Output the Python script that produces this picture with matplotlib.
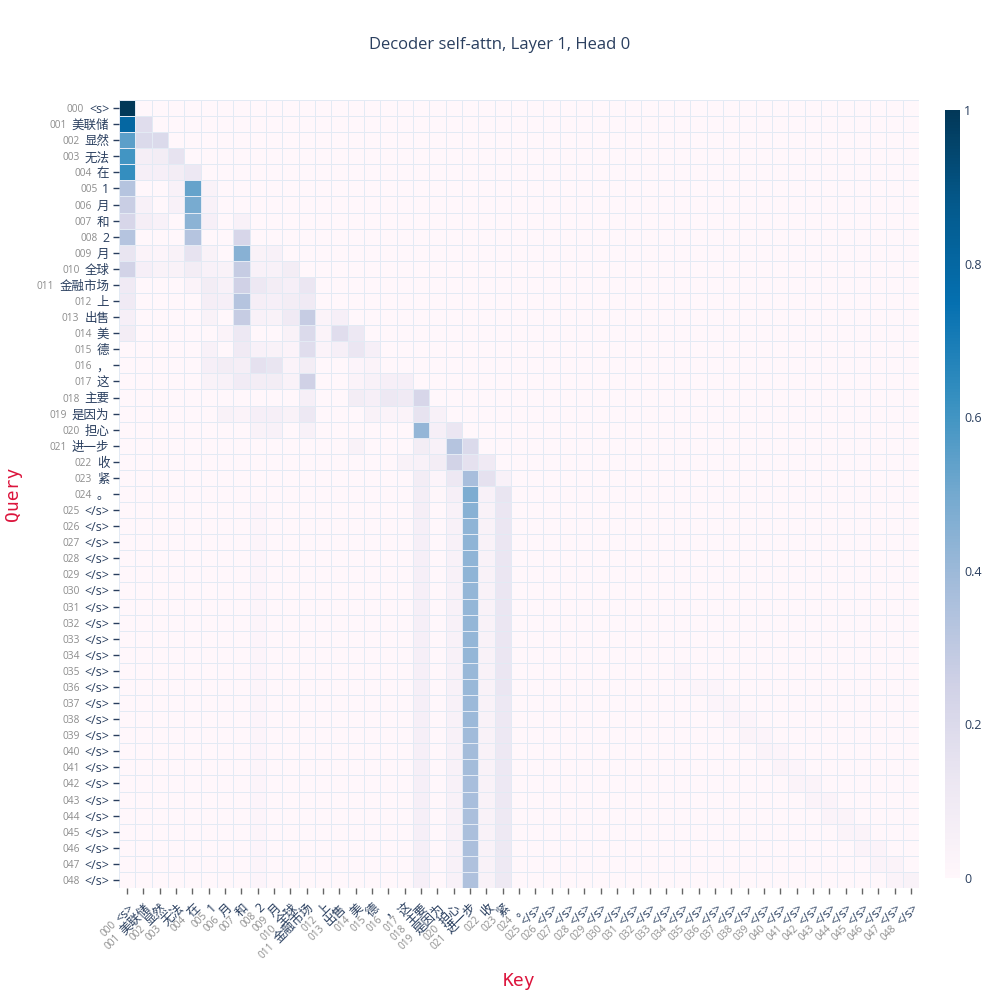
import numpy as np
import matplotlib
matplotlib.use("Agg")
import matplotlib.pyplot as plt
from matplotlib.font_manager import FontProperties

# tokens (same for query and key)
tokens = ["<s>", "美联储", "显然", "无法", "在", "1", "月", "和", "2", "月",
          "全球", "金融市场", "上", "出售", "美", "德", "，", "这", "主要", "是因为",
          "担心", "进一步", "收", "紧", "。"] + ["</s>"] * 24

# attention weights, row = query, {key col: weight}
attn_rows = [
    {0: 1.0},
    {0: 0.80, 1: 0.18},
    {0: 0.55, 1: 0.20, 2: 0.20},
    {0: 0.60, 1: 0.07, 2: 0.08, 3: 0.15},
    {0: 0.63, 1: 0.06, 2: 0.06, 3: 0.08, 4: 0.12},
    {0: 0.33, 3: 0.05, 4: 0.53, 5: 0.04},
    {0: 0.27, 1: 0.05, 3: 0.05, 4: 0.49, 5: 0.05},
    {0: 0.22, 1: 0.07, 2: 0.05, 4: 0.44, 5: 0.06, 7: 0.05},
    {0: 0.33, 4: 0.33, 7: 0.22},
    {0: 0.14, 1: 0.03, 2: 0.02, 3: 0.04, 4: 0.15, 5: 0.04, 7: 0.45, 8: 0.04, 9: 0.05},
    {0: 0.24, 1: 0.06, 2: 0.04, 3: 0.04, 4: 0.08, 5: 0.05, 6: 0.04, 7: 0.28, 8: 0.05, 9: 0.05, 10: 0.08},
    {0: 0.10, 4: 0.03, 5: 0.08, 6: 0.05, 7: 0.25, 8: 0.12, 9: 0.08, 10: 0.06, 11: 0.13},
    {0: 0.10, 5: 0.07, 6: 0.06, 7: 0.33, 8: 0.07, 9: 0.06, 10: 0.08, 11: 0.10},
    {0: 0.06, 5: 0.04, 7: 0.28, 8: 0.05, 9: 0.04, 10: 0.10, 11: 0.28, 12: 0.03, 13: 0.06},
    {0: 0.08, 6: 0.03, 7: 0.12, 10: 0.04, 11: 0.20, 12: 0.03, 13: 0.18, 14: 0.12},
    {5: 0.05, 7: 0.10, 8: 0.05, 9: 0.04, 10: 0.03, 11: 0.18, 12: 0.03, 13: 0.06, 14: 0.13, 15: 0.06},
    {5: 0.06, 6: 0.08, 7: 0.07, 8: 0.16, 9: 0.14, 10: 0.03, 11: 0.08, 14: 0.02, 15: 0.03},
    {5: 0.04, 6: 0.05, 7: 0.09, 8: 0.08, 9: 0.08, 10: 0.04, 11: 0.25, 14: 0.03, 15: 0.05, 16: 0.06, 17: 0.06},
    {11: 0.06, 14: 0.08, 15: 0.06, 16: 0.12, 17: 0.10, 18: 0.22},
    {6: 0.04, 7: 0.03, 8: 0.06, 9: 0.06, 10: 0.04, 11: 0.12, 15: 0.04, 16: 0.03, 17: 0.03, 18: 0.15, 19: 0.05},
    {8: 0.04, 9: 0.05, 11: 0.05, 18: 0.42, 19: 0.06, 20: 0.13},
    {14: 0.04, 18: 0.08, 19: 0.05, 20: 0.33, 21: 0.20},
    {17: 0.04, 18: 0.05, 19: 0.08, 20: 0.24, 21: 0.16, 22: 0.10},
    {18: 0.08, 19: 0.02, 20: 0.12, 21: 0.37, 22: 0.16, 23: 0.05},
    {18: 0.07, 19: 0.01, 20: 0.06, 21: 0.48, 22: 0.05, 23: 0.14},
    {8: 0.02, 18: 0.07, 20: 0.05, 21: 0.45, 22: 0.04, 23: 0.13},
    {8: 0.02, 18: 0.06, 20: 0.05, 21: 0.43, 22: 0.04, 23: 0.13},
    {8: 0.02, 18: 0.06, 20: 0.05, 21: 0.43, 22: 0.04, 23: 0.13},
    {8: 0.02, 18: 0.06, 20: 0.05, 21: 0.43, 22: 0.04, 23: 0.13},
    {8: 0.02, 18: 0.06, 20: 0.05, 21: 0.43, 22: 0.04, 23: 0.13},
    {8: 0.02, 18: 0.06, 20: 0.05, 21: 0.42, 22: 0.04, 23: 0.13},
    {8: 0.02, 18: 0.06, 20: 0.05, 21: 0.42, 22: 0.04, 23: 0.13},
    {8: 0.02, 18: 0.06, 20: 0.05, 21: 0.42, 22: 0.04, 23: 0.13},
    {8: 0.02, 18: 0.06, 20: 0.05, 21: 0.42, 22: 0.04, 23: 0.13},
    {8: 0.02, 18: 0.06, 20: 0.05, 21: 0.42, 22: 0.04, 23: 0.13},
    {8: 0.02, 18: 0.06, 20: 0.05, 21: 0.41, 22: 0.04, 23: 0.13, 34: 0.02},
    {8: 0.02, 18: 0.06, 20: 0.05, 21: 0.41, 22: 0.04, 23: 0.13, 35: 0.02, 36: 0.02},
    {8: 0.02, 18: 0.06, 20: 0.05, 21: 0.40, 22: 0.04, 23: 0.12, 36: 0.02, 37: 0.02},
    {8: 0.02, 18: 0.06, 20: 0.05, 21: 0.40, 22: 0.04, 23: 0.12, 37: 0.02, 38: 0.02},
    {8: 0.02, 18: 0.06, 20: 0.05, 21: 0.39, 22: 0.04, 23: 0.12, 38: 0.03, 39: 0.02},
    {8: 0.02, 18: 0.06, 20: 0.05, 21: 0.38, 22: 0.04, 23: 0.12, 39: 0.03, 40: 0.02},
    {8: 0.02, 18: 0.06, 20: 0.05, 21: 0.38, 22: 0.04, 23: 0.12, 40: 0.03, 41: 0.02},
    {8: 0.02, 18: 0.06, 20: 0.05, 21: 0.37, 22: 0.04, 23: 0.12, 41: 0.03, 42: 0.03},
    {8: 0.02, 18: 0.06, 20: 0.05, 21: 0.37, 22: 0.04, 23: 0.12, 42: 0.03, 43: 0.03},
    {8: 0.02, 18: 0.06, 20: 0.05, 21: 0.36, 22: 0.04, 23: 0.11, 43: 0.03, 44: 0.03},
    {8: 0.02, 18: 0.06, 20: 0.05, 21: 0.36, 22: 0.04, 23: 0.11, 44: 0.03, 45: 0.03},
    {8: 0.02, 18: 0.06, 20: 0.05, 21: 0.36, 22: 0.04, 23: 0.11, 45: 0.03, 46: 0.03},
    {8: 0.02, 18: 0.06, 20: 0.05, 21: 0.35, 22: 0.04, 23: 0.11, 46: 0.03, 47: 0.03},
    {8: 0.02, 18: 0.06, 20: 0.05, 21: 0.35, 22: 0.04, 23: 0.11, 47: 0.03, 48: 0.04},
]

n = len(tokens)
attn = np.zeros((n, n))
for r, row in enumerate(attn_rows):
    for c, v in row.items():
        attn[r, c] = v

navy = "#2a3f5f"
gray = "#8c8c8c"
txt_fam = ["Open Sans", "Noto Sans CJK SC", "DejaVu Sans"]

fig = plt.figure(figsize=(10, 10), dpi=100)
ax = fig.add_axes([0.119, 0.112, 0.800, 0.788])

mesh = ax.pcolormesh(np.arange(n + 1) - 0.5, np.arange(n + 1) - 0.5, attn,
                     cmap="PuBu", vmin=0, vmax=1,
                     edgecolors="#e3eaf4", linewidth=0.6)
ax.set_xlim(-0.5, n - 0.5)
ax.set_ylim(n - 0.5, -0.5)
for s in ax.spines.values():
    s.set_visible(False)

ax.set_xticks(np.arange(n))
ax.set_yticks(np.arange(n))
ax.set_xticklabels([])
ax.set_yticklabels([])
ax.tick_params(axis="y", length=4, width=1, color=navy)
ax.tick_params(axis="x", length=4, width=1, color="#666666")

# tick labels: gray index + navy token
renderer = fig.canvas.get_renderer()
tok_prop = FontProperties(family=txt_fam, size=9)
px2pt = 72.0 / fig.dpi
gap = 3.5
c45 = np.cos(np.radians(45))

for i, tok in enumerate(tokens):
    w = renderer.get_text_width_height_descent(tok, tok_prop, ismath=False)[0] * px2pt
    idx = "%03d" % i
    # y axis
    ax.annotate(tok, xy=(0, i), xycoords=("axes fraction", "data"),
                xytext=(-7, 0), textcoords="offset points",
                ha="right", va="center_baseline", color=navy,
                fontsize=9, family=txt_fam)
    ax.annotate(idx, xy=(0, i), xycoords=("axes fraction", "data"),
                xytext=(-7 - w - gap, 0), textcoords="offset points",
                ha="right", va="center_baseline", color=gray,
                fontsize=7.3, family=txt_fam)
    # x axis, rotated 45
    x0, y0 = 3, -12
    ax.annotate(tok, xy=(i, 0), xycoords=("data", "axes fraction"),
                xytext=(x0, y0), textcoords="offset points",
                ha="right", va="center_baseline", rotation=45,
                rotation_mode="anchor", color=navy, fontsize=9, family=txt_fam)
    d = w + gap
    ax.annotate(idx, xy=(i, 0), xycoords=("data", "axes fraction"),
                xytext=(x0 - d * c45, y0 - d * c45), textcoords="offset points",
                ha="right", va="center_baseline", rotation=45,
                rotation_mode="anchor", color=gray, fontsize=7.3, family=txt_fam)

# colorbar
cax = fig.add_axes([0.945, 0.122, 0.015, 0.768])
cb = fig.colorbar(mesh, cax=cax, ticks=[0, 0.2, 0.4, 0.6, 0.8, 1])
cb.ax.set_yticklabels(["0", "0.2", "0.4", "0.6", "0.8", "1"])
cb.outline.set_visible(False)
cb.ax.tick_params(length=0, pad=3, labelsize=9, labelcolor=navy)
for lab in cb.ax.get_yticklabels():
    lab.set_family(txt_fam)

fig.text(0.5, 0.955, "Decoder self-attn, Layer 1, Head 0", ha="center", va="center",
         fontsize=12, color=navy, family=txt_fam)
fig.text(0.013, 0.506, "Query", rotation=90, ha="center", va="center",
         fontsize=13, color="#dc143c", family="DejaVu Sans Mono")
fig.text(0.519, 0.019, "Key", ha="center", va="center",
         fontsize=13, color="#dc143c", family="DejaVu Sans Mono")

fig.savefig("out.png", dpi=100)
